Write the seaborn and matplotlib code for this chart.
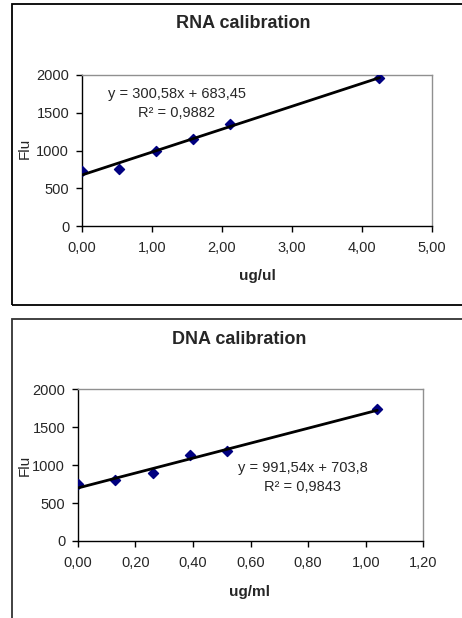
import numpy as np
import pandas as pd
import seaborn as sns
import matplotlib
matplotlib.use("Agg")
import matplotlib.pyplot as plt
from matplotlib.patches import Rectangle
from matplotlib.ticker import FuncFormatter, MultipleLocator

# data
rna_conc = [0.0, 0.53, 1.06, 1.59, 2.12, 4.25]
rna_flu = [735, 750, 995, 1155, 1350, 1960]
rna_eq = "y = 300,58x + 683,45\nR² = 0,9882"

dna_conc = [0.0, 0.13, 0.26, 0.39, 0.52, 1.04]
dna_flu = [747, 804, 892, 1130, 1187, 1736]
dna_eq = "y = 991,54x + 703,8\nR² = 0,9843"

sns.set_style("white")
plt.rcParams['font.family'] = ['Liberation Sans', 'DejaVu Sans']

W, H = 462, 618
fig = plt.figure(figsize=(W / 100, H / 100), dpi=100)


def px_axes(left, right, top, bottom):
    return fig.add_axes([left / W, 1 - bottom / H, (right - left) / W, (bottom - top) / H])


def comma(v, pos):
    return f"{v:.2f}".replace('.', ',')


def draw(ax, x, y, xmax, xstep, eq, eq_xy):
    df = pd.DataFrame({'conc': x, 'flu': y})
    sns.regplot(data=df, x='conc', y='flu', ax=ax, ci=None, marker='D',
                scatter_kws=dict(color='#000080', s=26, alpha=1, edgecolor='#000080',
                                 zorder=3),
                line_kws=dict(color='black', lw=2, zorder=4))
    ax.set_xlim(0, xmax)
    ax.set_ylim(0, 2000)
    ax.xaxis.set_major_locator(MultipleLocator(xstep))
    ax.yaxis.set_major_locator(MultipleLocator(500))
    ax.xaxis.set_major_formatter(FuncFormatter(comma))
    ax.set_xlabel('')
    ax.set_ylabel('')
    ax.tick_params(axis='both', which='major', labelsize=10.5, length=4, width=1,
                   direction='out', color='black', bottom=True, left=True)
    ax.tick_params(axis='x', pad=7)
    ax.tick_params(axis='y', pad=5)
    for s in ['top', 'right']:
        ax.spines[s].set_color('#909090')
        ax.spines[s].set_linewidth(1)
    for s in ['left', 'bottom']:
        ax.spines[s].set_color('black')
        ax.spines[s].set_linewidth(1)
    ax.text(eq_xy[0], eq_xy[1], eq, transform=ax.transAxes, ha='center', va='center',
            fontsize=10.5, linespacing=1.45)


ax1 = px_axes(81.7, 432, 75, 226)
draw(ax1, rna_conc, rna_flu, 5, 1, rna_eq, ((177 - 81.7) / 350.3, (226 - 103.5) / 151))

ax2 = px_axes(77.7, 423.3, 389.3, 541)
draw(ax2, dna_conc, dna_flu, 1.2, 0.2, dna_eq, ((303 - 77.7) / 345.6, (541 - 477.5) / 151.7))

# titles and axis labels
fig.text(243 / W, 1 - 24 / H, 'RNA calibration', ha='center', va='center',
         fontsize=13, fontweight='bold')
fig.text(257 / W, 1 - 276 / H, 'ug/ul', ha='center', va='center',
         fontsize=11, fontweight='bold')
fig.text(25 / W, 1 - 148 / H, 'Flu', ha='center', va='center', rotation=90, fontsize=11)

fig.text(239 / W, 1 - 339 / H, 'DNA calibration', ha='center', va='center',
         fontsize=13, fontweight='bold')
fig.text(250 / W, 1 - 592 / H, 'ug/ml', ha='center', va='center',
         fontsize=11, fontweight='bold')
fig.text(25 / W, 1 - 465 / H, 'Flu', ha='center', va='center', rotation=90, fontsize=11)

# chart area frames
fig.patches.append(Rectangle((12 / W, 1 - 305 / H), 470 / W, 301 / H,
                             transform=fig.transFigure, fill=False, ec='black', lw=1.3))
fig.patches.append(Rectangle((12 / W, 1 - 640 / H), 470 / W, 321 / H,
                             transform=fig.transFigure, fill=False, ec='#333333', lw=1.3))

fig.savefig('out.png', dpi=100)
